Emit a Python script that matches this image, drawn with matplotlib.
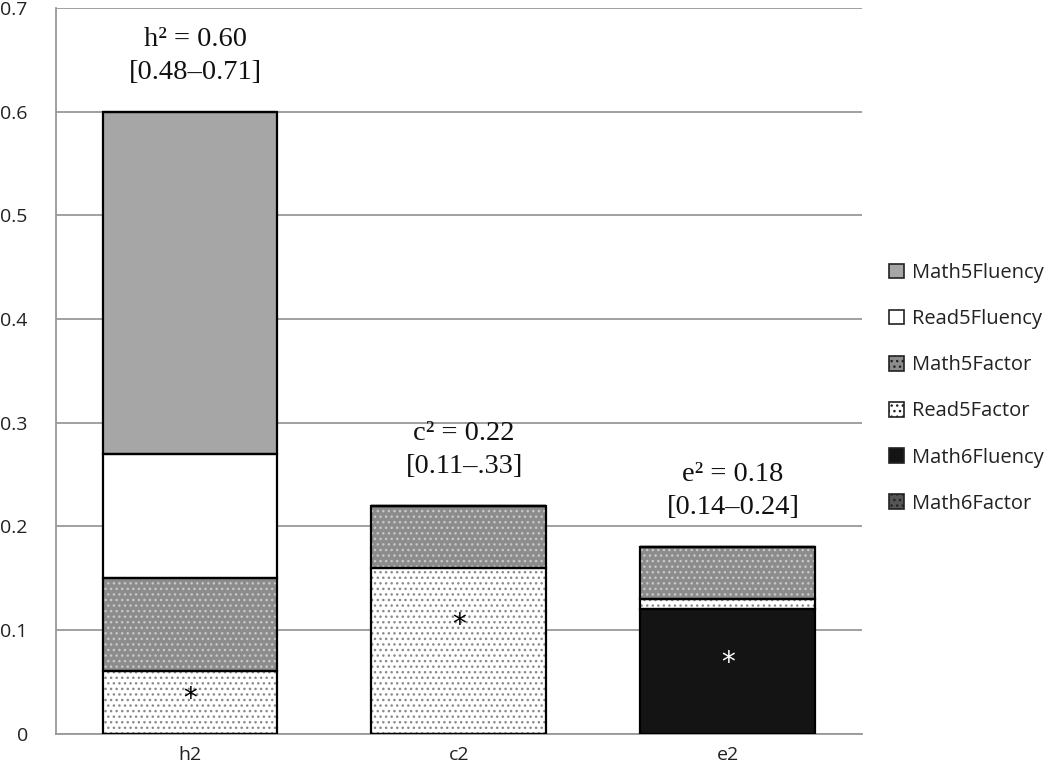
import matplotlib.pyplot as plt
from matplotlib.patches import Patch
import numpy as np

categories = ["h2", "c2", "e2"]
components = ["Math5Fluency", "Read5Fluency", "Math5Factor", "Read5Factor", "Math6Fluency", "Math6Factor"]

# stacked from the bottom up in this order
stack_order = ["Math6Fluency", "Read5Factor", "Math5Factor", "Read5Fluency", "Math5Fluency", "Math6Factor"]
values = {
    "Math6Fluency": [0.00, 0.00, 0.12],
    "Read5Factor": [0.06, 0.16, 0.01],
    "Math5Factor": [0.09, 0.06, 0.05],
    "Read5Fluency": [0.12, 0.00, 0.00],
    "Math5Fluency": [0.33, 0.00, 0.00],
    "Math6Factor": [0.00, 0.00, 0.00],
}
totals = [0.60, 0.22, 0.18]
labels = ["h\u00b2 = 0.60\n[0.48\u20130.71]",
          "c\u00b2 = 0.22\n[0.11\u2013.33]",
          "e\u00b2 = 0.18\n[0.14\u20130.24]"]
star_y = [0.033, 0.105, 0.068]
star_col = ["black", "black", "white"]

# face colour, hatch, hatch colour
styles = {
    "Math5Fluency": ("#a6a6a6", None, "#a6a6a6"),
    "Read5Fluency": ("white", None, "white"),
    "Math5Factor": ("#8c8c8c", "...", "#c8c8c8"),
    "Read5Factor": ("white", "...", "#8a8a8a"),
    "Math6Fluency": ("#141414", None, "#141414"),
    "Math6Factor": ("#555555", "...", "#9a9a9a"),
}

fig = plt.figure(figsize=(10.5, 7.83), dpi=100)
ax = fig.add_axes([0.053, 0.063, 0.768, 0.927])

x = np.arange(len(categories))
w = 0.65
bottom = np.zeros(len(categories))
for name in stack_order:
    v = np.array(values[name])
    fc, hatch, hc = styles[name]
    ax.bar(x, v, w, bottom=bottom, color=fc, edgecolor=hc, linewidth=0,
           hatch=hatch, zorder=2)
    ax.bar(x, v, w, bottom=bottom, fill=False, edgecolor="black",
           linewidth=1.6, zorder=3)
    bottom += v

for i in range(len(categories)):
    ax.text(x[i] + 0.02, totals[i] + 0.026, labels[i], ha="center", va="bottom",
            fontsize=20.5, family="Liberation Serif", linespacing=1.4, color="#111111")
    ax.text(x[i], star_y[i], "*", ha="center", va="center", fontsize=20,
            color=star_col[i], zorder=4)

ax.set_xlim(-0.5, 2.5)
ax.set_ylim(0, 0.7)
ax.set_yticks(np.arange(0, 0.71, 0.1))
ax.set_yticklabels(["0", "0.1", "0.2", "0.3", "0.4", "0.5", "0.6", "0.7"])
ax.set_xticks(x)
ax.set_xticklabels(categories)
ax.tick_params(length=0, labelsize=14, colors="#222222")
ax.tick_params(axis="y", pad=20)
ax.tick_params(axis="x", pad=9)
for t in ax.get_xticklabels() + ax.get_yticklabels():
    t.set_family("Open Sans")
ax.yaxis.grid(True, color="#999999", linewidth=1.3, zorder=0)
ax.set_axisbelow(True)
for s in ["top", "right"]:
    ax.spines[s].set_visible(False)
for s in ["left", "bottom"]:
    ax.spines[s].set_color("#999999")
    ax.spines[s].set_linewidth(1.3)

handles = []
for name in components:
    fc, hatch, hc = styles[name]
    handles.append(Patch(facecolor=fc, edgecolor="#222222", hatch=hatch, linewidth=1.2))
leg = fig.legend(handles, components, loc="center left", bbox_to_anchor=(0.847, 0.504),
                 frameon=False, handlelength=0.75, handleheight=0.75, handletextpad=0.35,
                 labelspacing=1.3, borderaxespad=0, borderpad=0,
                 prop={"family": "Open Sans", "size": 14.5})
for t in leg.get_texts():
    t.set_color("#222222")

fig.savefig("out.png", dpi=100)
